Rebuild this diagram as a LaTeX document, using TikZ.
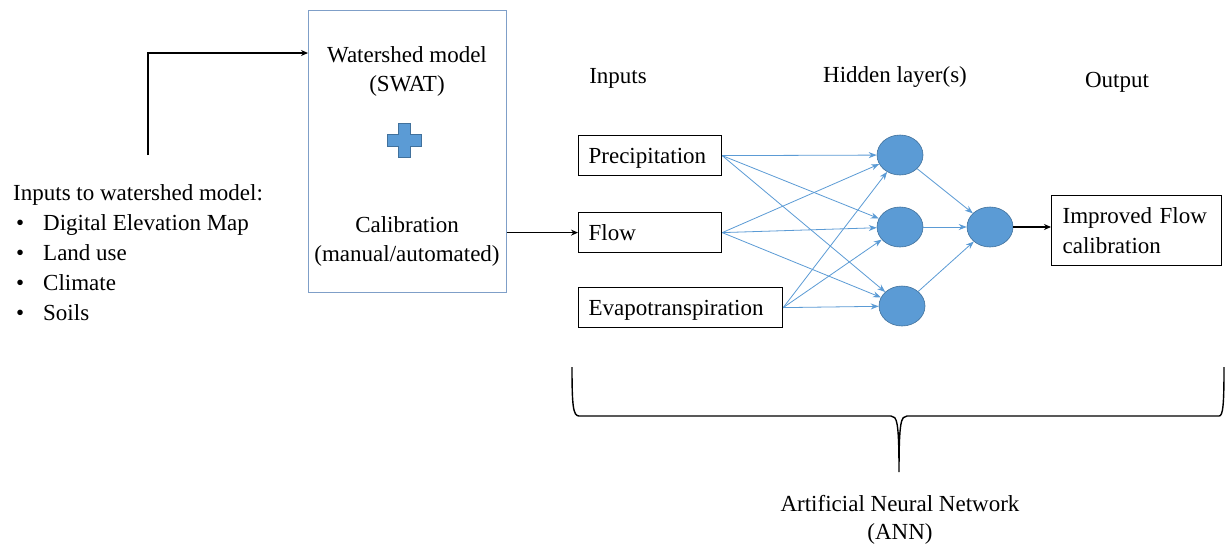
\documentclass[tikz,border=0pt]{standalone}
\usepackage{fontspec}
\setmainfont{Liberation Serif}
\usetikzlibrary{shapes.geometric,arrows.meta,calc}
\definecolor{nnblue}{HTML}{5B9BD5}
\definecolor{nnedge}{HTML}{41719C}
\definecolor{wsframe}{HTML}{7F9FC8}
\tikzset{
  txt/.style={font=\fontsize{23}{30}\selectfont, inner sep=0pt},
  inbox/.style={draw=black, line width=1.2pt, txt, inner xsep=10pt, align=left, text height=16pt, text depth=0pt, minimum height=40pt},
  neuron/.style={ellipse, fill=nnblue, draw=nnedge, line width=0.6pt, minimum width=46pt, minimum height=40pt, inner sep=0pt},
  wire/.style={draw=nnblue, line width=0.8pt, -{Stealth[length=8pt,width=6pt]}},
  blackarrow/.style={draw=black, line width=1.4pt, -{Stealth[length=7pt,width=6pt]}}
}
\begin{document}
\begin{tikzpicture}[x=1pt,y=-1pt]
\useasboundingbox[fill=white] (0,0) rectangle (1225,550);

% watershed model box
\node[draw=wsframe, line width=1pt, minimum width=198pt, minimum height=282pt, inner sep=0pt] (ws) at (407,151) {};
\node[txt, anchor=base] (wt1) at (407,62) {Watershed model};
\node[txt, anchor=base] (wt2) at (407,91) {(SWAT)};
\node[txt, anchor=base] (wt3) at (407,232) {Calibration};
\node[txt, anchor=base] (wt4) at (407,261) {(manual/automated)};
% plus sign
\fill[nnblue, draw=nnedge, line width=0.5pt]
  (398,123) -- (410,123) -- (410,134) -- (421,134) -- (421,146) -- (410,146) -- (410,157) -- (398,157) -- (398,146) -- (387,146) -- (387,134) -- (398,134) -- cycle;

% left inputs text
\node[txt, anchor=base west] (inh) at (13,200) {Inputs to watershed model:};
\node[txt, anchor=base west] (b1) at (16,230) {•};
\node[txt, anchor=base west] (i1) at (43,230) {Digital Elevation Map};
\node[txt, anchor=base west] (b2) at (16,260) {•};
\node[txt, anchor=base west] (i2) at (43,260) {Land use};
\node[txt, anchor=base west] (b3) at (16,290) {•};
\node[txt, anchor=base west] (i3) at (43,290) {Climate};
\node[txt, anchor=base west] (b4) at (16,320) {•};
\node[txt, anchor=base west] (i4) at (43,320) {Soils};

\coordinate (lstart) at (148,155);
\coordinate (wsin) at (308,53);
\draw[blackarrow] (lstart) |- (wsin);

% headers
\node[txt, anchor=base] (hin) at (618,83) {Inputs};
\node[txt, anchor=base] (hhid) at (895,82) {Hidden layer(s)};
\node[txt, anchor=base] (hout) at (1117,87) {Output};

% input boxes
\node[inbox, text width=123pt, anchor=north west] (pr) at (578,135) {Precipitation};
\node[inbox, text width=123pt, anchor=north west] (fl) at (578,212) {Flow};
\node[inbox, text width=184pt, anchor=north west] (ev) at (578,287) {Evapotranspiration};

\draw[blackarrow] (ws.east |- fl.west) -- (fl.west);

% neurons
\node[neuron] (h1) at (900,155) {};
\node[neuron] (h2) at (900,227) {};
\node[neuron] (h3) at (902,306) {};
\node[neuron] (o) at (990,227) {};

\foreach \s in {pr,fl,ev}{
  \foreach \t in {h1,h2,h3}{
    \draw[wire] (\s.east) -- (\t);
  }
}
\foreach \t in {h1,h2,h3}{
  \draw[wire] (\t) -- (o);
}

% output box
\node[draw=black, line width=1.2pt, txt, anchor=north west, minimum width=170pt, minimum height=70pt, text width=148pt, inner xsep=11pt, align=left] (ob) at (1051,195) {Improved Flow\\calibration};
\draw[blackarrow] (o) -- (ob.west |- o);

% brace
\draw[black, line width=1.4pt]
  (572,367) .. controls (572,405) and (573,416) .. (579,416) -- (891,416)
  .. controls (897,416) and (899,422) .. (899,472)
  .. controls (899,422) and (901,416) .. (907,416) -- (1219,416)
  .. controls (1223,416) and (1224,405) .. (1224,367);

\node[txt, anchor=base] (ann1) at (900,511) {Artificial Neural Network};
\node[txt, anchor=base] (ann2) at (900,539) {(ANN)};
\end{tikzpicture}
\end{document}
